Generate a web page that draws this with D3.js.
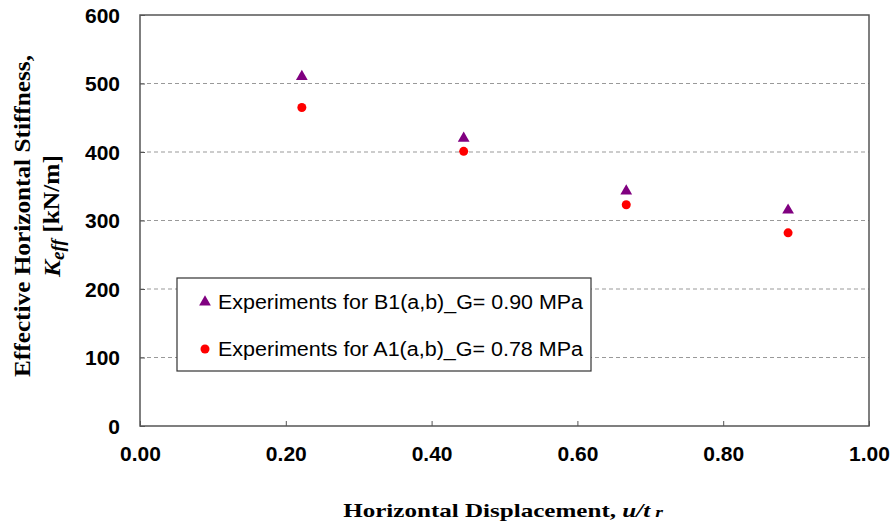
<!DOCTYPE html>
<html>
<head>
<meta charset="utf-8">
<script src="https://cdn.jsdelivr.net/npm/d3@7"></script>
<style>
  body { margin: 0; background: #fff; }
  .tick text { font-family: "Liberation Sans", Arial, sans-serif; font-weight: bold; font-size: 21px; fill: #000; }
</style>
</head>
<body>
<div id="chart"></div>
<script>
// displacement ratio u/tr
var ratios = [0.222, 0.444, 0.667, 0.889];
// Keff [kN/m]
var keffB1 = [510, 420, 343, 315];
var keffA1 = [465, 401, 323, 282];
var xTicks = [0, 0.2, 0.4, 0.6, 0.8, 1.0];
var yTicks = [0, 100, 200, 300, 400, 500, 600];
var seriesNames = ['Experiments for B1(a,b)_G= 0.90 MPa', 'Experiments for A1(a,b)_G= 0.78 MPa'];

var width = 891, height = 531;
var margin = { top: 15, right: 22, bottom: 105, left: 140 };

var svg = d3.select('#chart')
  .append('svg')
  .attr('width', width)
  .attr('height', height);

var w = width - margin.left - margin.right,
  h = height - margin.top - margin.bottom;

var g = svg.append('g')
  .attr('transform', 'translate(' + margin.left + ',' + margin.top + ')');

var xScale = d3.scaleLinear().domain([0, 1]).range([0, w]);
var yScale = d3.scaleLinear().domain([0, 600]).range([h, 0]);

// stretch a text group along its own x direction to a target width
function stretch(group, target) {
  var t = group.select('text');
  var bw = t.node().getBBox().width;
  t.attr('transform', 'scale(' + (target / bw) + ',1)');
}

// dashed gridlines
g.append('g')
  .selectAll('line')
  .data(yTicks.slice(1, -1))
  .enter()
  .append('line')
  .attr('x1', 0)
  .attr('x2', w)
  .attr('y1', function(d) { return yScale(d); })
  .attr('y2', function(d) { return yScale(d); })
  .attr('stroke', '#999')
  .attr('stroke-dasharray', '4,3');

// plot frame
g.append('rect')
  .attr('width', w)
  .attr('height', h)
  .attr('fill', 'none')
  .attr('stroke', '#555')
  .attr('stroke-width', 1.5);

var xAxis = g.append('g')
  .attr('transform', 'translate(0,' + h + ')')
  .call(d3.axisBottom(xScale).tickValues(xTicks).tickFormat(d3.format('.2f')).tickSizeInner(-5).tickSizeOuter(0).tickPadding(20));
xAxis.select('.domain').remove();
xAxis.selectAll('line').attr('stroke', '#555');

var yAxis = g.append('g')
  .call(d3.axisLeft(yScale).tickValues(yTicks).tickSizeInner(-5).tickSizeOuter(0).tickPadding(20));
yAxis.select('.domain').remove();
yAxis.selectAll('line').attr('stroke', '#555');
yAxis.selectAll('text').attr('dy', '0.35em');

var triangle = d3.symbol().type(d3.symbolTriangle).size(60);

g.append('g')
  .selectAll('path')
  .data(ratios)
  .enter()
  .append('path')
  .attr('d', triangle)
  .attr('transform', function(d, i) {
    return 'translate(' + xScale(d) + ',' + yScale(keffB1[i]) + ')';
  })
  .attr('fill', '#800080');

g.append('g')
  .selectAll('circle')
  .data(ratios)
  .enter()
  .append('circle')
  .attr('cx', function(d) { return xScale(d); })
  .attr('cy', function(d, i) { return yScale(keffA1[i]); })
  .attr('r', 4.5)
  .attr('fill', '#ff0000');

// legend
var legend = svg.append('g').attr('transform', 'translate(177,278)');
legend.append('rect')
  .attr('width', 414)
  .attr('height', 93)
  .attr('fill', '#fff')
  .attr('stroke', '#333')
  .attr('stroke-width', 1.2);

legend.append('path')
  .attr('d', triangle)
  .attr('transform', 'translate(28,24)')
  .attr('fill', '#800080');
legend.append('circle')
  .attr('cx', 28)
  .attr('cy', 71)
  .attr('r', 4.5)
  .attr('fill', '#ff0000');

legend.selectAll('.item')
  .data(seriesNames)
  .enter()
  .append('text')
  .attr('x', 41)
  .attr('y', function(d, i) { return 31 + i * 47; })
  .attr('textLength', 365)
  .attr('lengthAdjust', 'spacingAndGlyphs')
  .style('font-family', '"Liberation Sans", Arial, sans-serif')
  .style('font-size', '19.5px')
  .text(function(d) { return d; });

// axis titles
var serif = '"Liberation Serif", "Times New Roman", serif';

svg.append('text')
  .attr('transform', 'translate(22,216) rotate(-90)')
  .attr('x', -161)
  .attr('dy', '0.35em')
  .attr('textLength', 322)
  .attr('lengthAdjust', 'spacingAndGlyphs')
  .style('font-family', serif)
  .style('font-weight', 'bold')
  .style('font-size', '24px')
  .text('Effective Horizontal Stiffness,');

var yTitle2G = svg.append('g').attr('transform', 'translate(52,216) rotate(-90)');
var yTitle2 = yTitle2G.append('text')
  .attr('text-anchor', 'middle')
  .attr('dy', '0.35em')
  .style('font-family', serif)
  .style('font-weight', 'bold')
  .style('font-size', '24px');
yTitle2.append('tspan').style('font-style', 'italic').text('K');
yTitle2.append('tspan').attr('dy', '0.2em').style('font-style', 'italic').style('font-size', '18px').text('eff');
yTitle2.append('tspan').attr('dy', '-0.2em').text(' [kN/m]');
stretch(yTitle2G, 123);

var xTitleG = svg.append('g').attr('transform', 'translate(503,517)');
var xTitle = xTitleG.append('text')
  .attr('text-anchor', 'middle')
  .style('font-family', serif)
  .style('font-weight', 'bold')
  .style('font-size', '19px');
xTitle.append('tspan').text('Horizontal Displacement, ');
xTitle.append('tspan').style('font-style', 'italic').text('u/t');
xTitle.append('tspan').style('font-style', 'italic').style('font-size', '15px').text(' r');
stretch(xTitleG, 320);
</script>
</body>
</html>
